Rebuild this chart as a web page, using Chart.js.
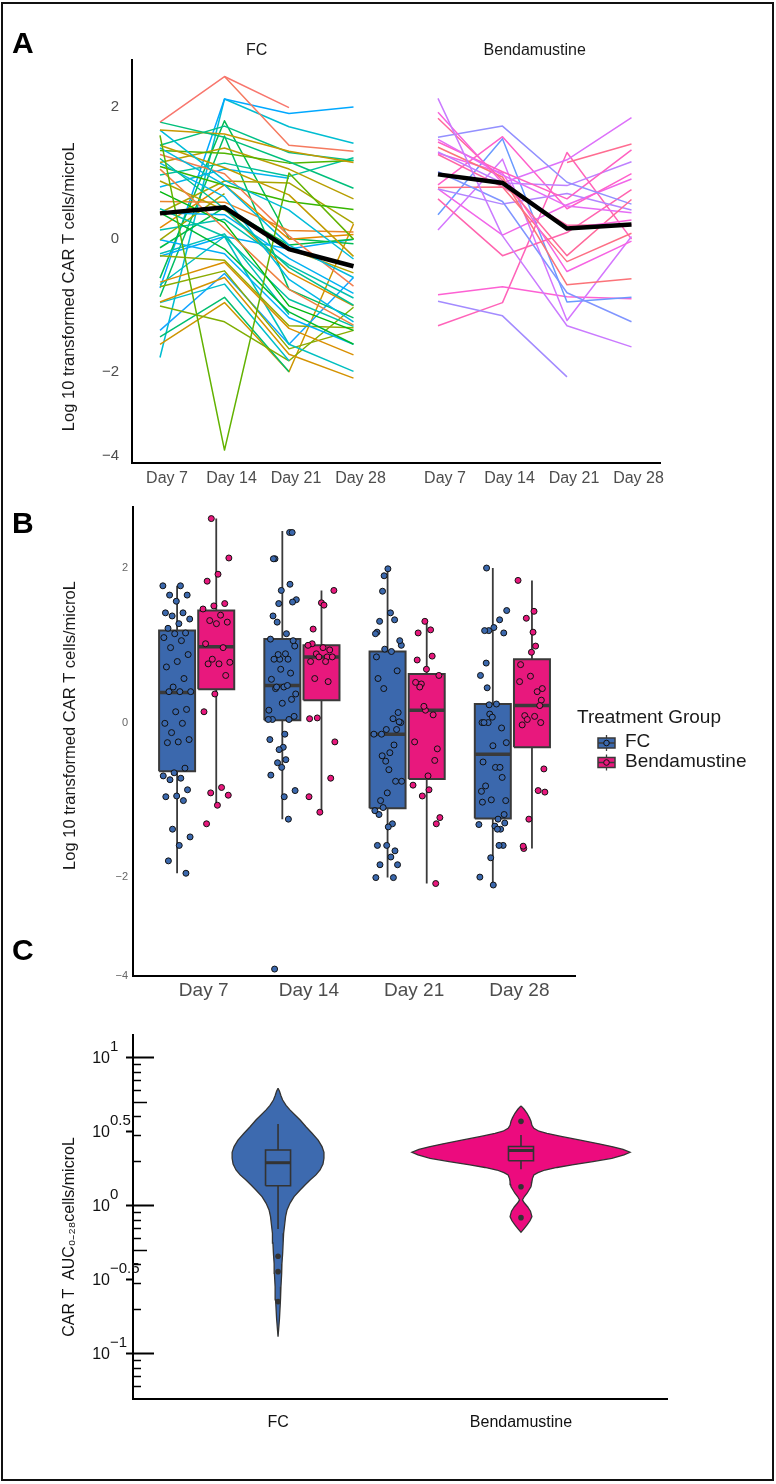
<!DOCTYPE html>
<html><head><meta charset="utf-8">
<script src="https://cdn.jsdelivr.net/npm/chart.js@4.4.1/dist/chart.umd.min.js"></script>
<style>
html,body{margin:0;padding:0;background:#fff;}
#page{position:relative;width:776px;height:1484px;overflow:hidden;background:#fff;}
#frame{position:absolute;left:1px;top:2px;width:773px;height:1479px;box-sizing:border-box;border:2px solid #111;}
canvas{position:absolute;left:0;}
.plabel{position:absolute;font:bold 30px "Liberation Sans",Arial,sans-serif;line-height:30px;color:#000;z-index:5;}
</style></head>
<body><div id="page">
<div id="frame"></div>
<canvas id="chartA" width="776" height="500" style="top:0"></canvas>
<canvas id="chartB" width="776" height="520" style="top:490px"></canvas>
<canvas id="chartC" width="776" height="470" style="top:1010px"></canvas>
<div class="plabel" style="left:12px;top:28px">A</div>
<div class="plabel" style="left:12px;top:508px">B</div>
<div class="plabel" style="left:12px;top:935px">C</div>
</div>
<script>
// ---------------- DATA ----------------
const days = ['Day 7', 'Day 14', 'Day 21', 'Day 28'];
const groups = ['FC', 'Bendamustine'];
const yTicksAB = [-4, -2, 0, 2];

// log10 CAR T cells/microL per patient at Day 7, 14, 21, 28 (null = not sampled)
const fcPatients = [
  [1.77, 2.46, 1.99, null], [1.77, 1.54, 1.17, 0.77], [1.65, 1.59, 1.33, 1.16], [1.65, 0.89, 0.44, -0.30],
  [1.57, -3.86, 1.00, 0.00], [null, 2.46, 1.42, 1.33], [1.42, 1.71, 1.31, 1.19], [1.42, 1.08, 0.67, -0.26],
  [1.38, 0.82, -0.09, -0.58], [1.34, 1.30, 1.15, 1.19], [1.28, 0.99, 0.05, -0.71], [1.22, 0.46, -0.43, -1.00],
  [1.16, 1.38, 1.06, 0.61], [1.15, 0.64, -0.61, -1.25], [1.10, 0.82, 0.57, 0.45], [1.06, 0.16, -0.76, -1.30],
  [0.97, 1.15, 0.95, 1.23], [0.88, 0.44, -0.15, -0.51], [0.79, 1.06, 0.92, null], [0.72, 0.25, -1.01, -1.38],
  [0.57, 0.56, 0.13, 0.11], [0.46, 0.04, -0.91, -1.32], [0.40, 0.88, 0.85, 0.24], [0.40, 0.37, -0.29, -0.82],
  [0.40, -0.15, -1.10, -1.59], [0.17, 0.82, 0.00, 0.07], [0.14, 0.30, -0.39, -0.89], [-0.01, 0.69, null, null],
  [-0.01, -0.22, -1.19, -1.59], [-0.13, 0.48, -0.09, 0.00], [null, 0.46, -0.50, -1.01], [-0.22, 0.08, -1.14, null],
  [-0.25, -0.32, -1.31, -1.34], [-0.26, 0.04, -0.15, 0.00], [-0.59, 1.79, 0.01, -0.07], [-0.65, -0.35, -1.35, -1.75],
  [-0.69, 0.04, -1.59, -2.00], [-0.72, -0.48, -1.66, -1.38], [-0.74, 2.12, 1.90, 2.00], [-0.87, 1.56, -0.76, -1.19],
  [-0.95, -0.58, -1.74, -2.16], [-0.96, -0.68, -1.84, null], [-1.01, -1.25, -1.84, -1.03], [-1.38, -0.52, -1.59, -0.58],
  [-1.48, -0.88, -2.01, null], [-1.59, -0.96, -2.01, 0.23], [-1.79, 2.12, 1.70, 1.45], [-1.95, null, null, null]
];
const bendaPatients = [
  [2.64, null, null, 0.08], [2.13, 0.05, -1.31, -1.63], [1.92, 0.85, 0.16, 0.29], [1.83, 0.89, -0.25, 0.60],
  [1.54, 1.71, 0.86, 0.53], [1.51, 0.97, 0.50, 0.40], [1.47, 1.02, 0.61, 1.35], [1.39, 0.94, -0.69, -0.60],
  [1.32, 0.85, 0.81, 1.17], [1.30, 1.00, -0.49, -0.03], [1.28, 0.79, 0.21, 0.22], [1.02, 0.57, -0.81, -1.25],
  [0.97, 0.85, 1.20, 1.84], [0.82, 1.55, 0.46, 0.99], [0.78, 0.79, -0.34, 0.09], [0.76, 0.53, 0.69, 0.44],
  [0.76, 0.06, 0.52, 0.91], [0.61, -0.25, 0.10, 0.75], [0.37, 1.52, -0.95, -0.88], [0.14, 1.21, -1.23, 0.04],
  [-0.84, -0.72, -0.87, -0.90], [-0.91, null, 1.16, 1.44], [-0.94, -1.16, -2.13, null], [-1.07, null, null, -1.60],
  [-1.31, -0.96, 1.31, 0.00]
];

// group summaries
const fcMedian = [0.39, 0.48, -0.15, -0.41];
const bendaMedian = [0.98, 0.85, 0.16, 0.22];
const fcQ1 = [-0.63, 0.03, -1.11, -1.24];
const fcQ3 = [1.19, 1.08, 0.92, 0.24];
const fcLow = [-1.95, -1.25, -2.01, -2.16];
const fcHigh = [1.77, 2.48, 1.99, 2.00];
const bendaQ1 = [0.43, 0.29, -0.73, -0.32];
const bendaQ3 = [1.45, 1.00, 0.63, 0.82];
const bendaLow = [-1.07, -1.16, -2.13, -1.63];
const bendaHigh = [2.64, 1.71, 1.31, 1.84];

// Panel C: CAR T AUC(0-28) cells/microL, log axis
const aucGroups = ['FC', 'Bendamustine'];
const aucTickExp = [-1, -0.5, 0, 0.5, 1];
const aucMinorTicks = [0.06, 0.07, 0.08, 0.09, 0.2, 0.3, 0.4, 0.6, 0.7, 0.8, 0.9, 2, 3, 4, 6, 7, 8, 9];
const aucMidTicks = [0.5, 5];
const aucMajorTicks = [0.1, 1, 10];
const fcViolinExp = [0.795,0.775,0.745,0.716,0.680,0.649,0.615,0.581,0.535,0.491,0.445,0.401,0.362,0.322,0.283,0.243,0.210,0.176,0.142,0.108,0.063,0.018,-0.027,-0.072,-0.130,-0.185,-0.250,-0.320,-0.390,-0.455,-0.545,-0.635,-0.760,-0.883];
const fcViolinWidth = [0,0.006,0.012,0.019,0.033,0.049,0.070,0.091,0.115,0.140,0.165,0.181,0.189,0.189,0.185,0.173,0.156,0.132,0.111,0.091,0.066,0.049,0.037,0.031,0.027,0.023,0.021,0.019,0.016,0.015,0.012,0.010,0.006,0];
const bendaViolinExp = [0.676,0.655,0.626,0.595,0.572,0.545,0.525,0.505,0.491,0.470,0.446,0.420,0.401,0.382,0.363,0.345,0.322,0.300,0.277,0.260,0.243,0.225,0.209,0.185,0.164,0.145,0.130,0.108,0.086,0.064,0.041,0.020,-0.005,-0.035,-0.072,-0.100,-0.128,-0.155,-0.178];
const bendaViolinWidth = [0,0.012,0.025,0.035,0.041,0.045,0.053,0.074,0.107,0.165,0.239,0.321,0.374,0.420,0.449,0.424,0.374,0.296,0.210,0.148,0.099,0.070,0.053,0.047,0.045,0.043,0.041,0.033,0.025,0.014,0.006,0.014,0.027,0.039,0.045,0.037,0.025,0.012,0];
const aucQ1 = [1.37, 2.02];
const aucMedian = [1.96, 2.37];
const aucQ3 = [2.39, 2.52];
const aucLow = [0.70, 1.77];
const aucHigh = [3.58, 3.02];
const fcAucPoints = [0.457, 0.360, 0.226];
const bendaAucPoints = [3.73, 1.35, 0.834];

// ---------------- STYLE / HELPERS ----------------
const FONT = '"Liberation Sans", Arial, Helvetica, sans-serif';
Chart.defaults.font.family = FONT;
const groupColors = ['#3b68ad', '#e8187d'];
const violinColors = ['#3d6aaf', '#ec0b7e'];
const dark = '#3a3a3a';

function hclColor(h, c, l) {
  const hr = h * Math.PI / 180;
  const U = c * Math.cos(hr), V = c * Math.sin(hr);
  const Xn = 95.047, Yn = 100, Zn = 108.883;
  const un = 4 * Xn / (Xn + 15 * Yn + 3 * Zn), vn = 9 * Yn / (Xn + 15 * Yn + 3 * Zn);
  const Y = l > 8 ? Yn * Math.pow((l + 16) / 116, 3) : Yn * l / 903.3;
  const u = U / (13 * l) + un, v = V / (13 * l) + vn;
  const X = 9 * Y * u / (4 * v), Z = 3 * Y / v - X / 3 - 5 * Y;
  const x = X / 100, y = Y / 100, z = Z / 100;
  const r = 3.2406 * x - 1.5372 * y - 0.4986 * z;
  const g = -0.9689 * x + 1.8758 * y + 0.0415 * z;
  const b = 0.0557 * x - 0.2040 * y + 1.0570 * z;
  const gam = t => { t = t <= 0.0031308 ? 12.92 * t : 1.055 * Math.pow(t, 1 / 2.4) - 0.055; return Math.round(Math.max(0, Math.min(1, t)) * 255); };
  return 'rgb(' + gam(r) + ',' + gam(g) + ',' + gam(b) + ')';
}
const nPat = fcPatients.length + bendaPatients.length;
const hueOf = k => hclColor(15 + 360 * k / nPat, 100, 65);
const minus = v => (v < 0 ? '\u2212' + Math.abs(v) : String(v));

// y axis with the lower part (below -2) compressed, as in the original figure
const BREAK = -2, COMPRESS = 0.64;
class SplitLinearScale extends Chart.LinearScale {
  _tv(v) { return v >= BREAK ? v : BREAK + (v - BREAK) * COMPRESS; }
  _iv(t) { return t >= BREAK ? t : BREAK + (t - BREAK) / COMPRESS; }
  getPixelForValue(value) {
    if (value === null || value === undefined || isNaN(value)) return NaN;
    const t0 = this._tv(this.min), t1 = this._tv(this.max);
    return this.getPixelForDecimal((this._tv(value) - t0) / (t1 - t0));
  }
  getValueForPixel(pixel) {
    const t0 = this._tv(this.min), t1 = this._tv(this.max);
    return this._iv(t0 + this.getDecimalForPixel(pixel) * (t1 - t0));
  }
}
SplitLinearScale.id = 'splitLinear';
SplitLinearScale.defaults = Chart.LinearScale.defaults;
Chart.register(SplitLinearScale);

const common = { responsive: false, animation: false, devicePixelRatio: 1, events: [],
  plugins: { legend: { display: false }, tooltip: { enabled: false } } };
const axisBorder = { display: true, color: '#000', width: 2 };
const noGrid = { display: false, drawTicks: false };

// box outline polygons (q1..q3 around each centre), split by null gaps
function boxPolygons(q1, q3, centers, hw) {
  const out = [];
  q1.forEach((lo, i) => {
    const c = centers[i], hi = q3[i];
    out.push({ x: c - hw, y: lo }, { x: c - hw, y: hi }, { x: c + hw, y: hi }, { x: c + hw, y: lo }, { x: c - hw, y: lo }, { x: c, y: null });
  });
  return out;
}
function whiskers(lo, hi, centers) {
  const out = [];
  lo.forEach((v, i) => { const x = centers[i]; out.push({ x, y: v }, { x, y: hi[i] }, { x, y: null }); });
  return out;
}

// ---------------- PANEL A ----------------
const BEN_OFF = 4.31;
const aDatasets = [];
aDatasets.push({ type: 'line', data: fcMedian.map((v, d) => ({ x: d, y: v })), borderColor: '#000', borderWidth: 4.5, pointRadius: 0, order: 0 });
aDatasets.push({ type: 'line', data: bendaMedian.map((v, d) => ({ x: d + BEN_OFF, y: v })), borderColor: '#000', borderWidth: 4.5, pointRadius: 0, order: 0 });
fcPatients.forEach((p, i) => aDatasets.push({ type: 'line', data: p.map((v, d) => ({ x: d, y: v })),
  borderColor: hueOf((i * 29) % fcPatients.length), borderWidth: 1.5, pointRadius: 0, spanGaps: false, borderJoinStyle: 'round', order: 1 }));
bendaPatients.forEach((p, j) => aDatasets.push({ type: 'line', data: p.map((v, d) => ({ x: d + BEN_OFF, y: v })),
  borderColor: hueOf(fcPatients.length + (j * 7) % bendaPatients.length), borderWidth: 1.5, pointRadius: 0, spanGaps: false, borderJoinStyle: 'round', order: 1 }));
const aTickPos = days.map((_, d) => d).concat(days.map((_, d) => d + BEN_OFF));

new Chart(document.getElementById('chartA'), {
  type: 'line',
  data: { datasets: aDatasets },
  options: Object.assign({}, common, {
    layout: { padding: { left: 0, top: 20, right: 116, bottom: 0 }, autoPadding: false },
    scales: {
      x: { type: 'linear', position: 'bottom', min: -0.434, max: 7.752,
        afterFit: s => { s.height = 37; },
        afterBuildTicks: s => { s.ticks = aTickPos.map(v => ({ value: v })); },
        grid: noGrid, border: axisBorder,
        ticks: { autoSkip: false, maxRotation: 0, padding: 6, labelOffset: 7, color: '#4d4d4d', font: { size: 16 }, callback: (v, i) => days[i % days.length] } },
      xTop: { type: 'linear', position: 'top', min: -0.434, max: 7.752,
        afterFit: s => { s.height = 40; },
        afterBuildTicks: s => { s.ticks = [1.5, 1.5 + BEN_OFF].map(v => ({ value: v })); },
        grid: noGrid, border: { display: false },
        ticks: { autoSkip: false, maxRotation: 0, padding: 0, color: '#1a1a1a', font: { size: 16 }, callback: (v, i) => groups[i] } },
      y: { type: 'splitLinear', min: -4.166, max: 2.71,
        afterFit: s => { s.width = 132; },
        afterBuildTicks: s => { s.ticks = yTicksAB.map(v => ({ value: v })); },
        grid: noGrid, border: axisBorder,
        ticks: { padding: 13, color: '#4d4d4d', font: { size: 15 }, callback: v => minus(v) },
        title: { display: true, text: 'Log 10 transformed CAR T cells/microL' + ' '.repeat(11), color: '#1a1a1a', font: { size: 16.5 }, padding: { top: 60, bottom: 0 } } }
    }
  })
});

// ---------------- PANEL B ----------------
const B_OFF = [-0.186, 0.186];
const B_HALF = 0.171;
const jit = k => (((k * 0.6180339887) % 1) - 0.5) * 0.27;
function pointsFor(patients, g) {
  const out = [];
  days.forEach((_, d) => {
    patients.map(p => p[d]).filter(v => v !== null).forEach((v, k) => out.push({ x: d + B_OFF[g] + jit(k + d * 53 + g * 7), y: v }));
  });
  return out;
}
const bSets = [
  [fcPatients, fcQ1, fcQ3, fcMedian, fcLow, fcHigh],
  [bendaPatients, bendaQ1, bendaQ3, bendaMedian, bendaLow, bendaHigh]
];
const bDatasets = [];
bSets.forEach(([pats, q1, q3, med, lo, hi], g) => {
  const centers = days.map((_, d) => d + B_OFF[g]);
  bDatasets.push({ type: 'scatter', data: pointsFor(pats, g), pointRadius: 3, pointBorderWidth: 1, backgroundColor: groupColors[g], borderColor: '#111', order: 0 });
  bDatasets.push({ type: 'scatter', data: med.map((v, d) => ({ x: centers[d], y: v })), pointStyle: 'line', pointRadius: 18, pointBorderWidth: 3.5, borderColor: dark, order: 1 });
  bDatasets.push({ type: 'line', data: boxPolygons(q1, q3, centers, B_HALF), backgroundColor: groupColors[g], borderColor: dark, borderWidth: 2, fill: 'shape', pointRadius: 0, spanGaps: false, tension: 0, order: 2 });
  bDatasets.push({ type: 'line', data: whiskers(lo, hi, centers), borderColor: dark, borderWidth: 1.8, pointRadius: 0, spanGaps: false, order: 3 });
});

const legendB = {
  id: 'legendB',
  afterDraw(chart) {
    const ctx = chart.ctx, a = chart.chartArea;
    const x0 = a.right + 2, mid = (a.top + a.bottom) / 2;
    ctx.save();
    ctx.textBaseline = 'middle'; ctx.textAlign = 'left';
    ctx.font = '19px ' + FONT; ctx.fillStyle = '#1a1a1a';
    ctx.fillText('Treatment Group', x0, mid - 23.5);
    groups.forEach((g, i) => {
      const cy = mid + 1.5 + i * 19.5, kx = x0 + 21;
      ctx.strokeStyle = dark; ctx.lineWidth = 1.3;
      ctx.beginPath(); ctx.moveTo(kx + 8.5, cy - 8); ctx.lineTo(kx + 8.5, cy + 8); ctx.stroke();
      ctx.fillStyle = groupColors[i];
      ctx.fillRect(kx, cy - 5, 17, 10);
      ctx.lineWidth = 1.5; ctx.strokeRect(kx, cy - 5, 17, 10);
      ctx.beginPath(); ctx.moveTo(kx, cy); ctx.lineTo(kx + 17, cy); ctx.stroke();
      ctx.beginPath(); ctx.arc(kx + 8.5, cy, 2.8, 0, Math.PI * 2); ctx.fill();
      ctx.strokeStyle = '#111'; ctx.lineWidth = 1; ctx.stroke();
      ctx.fillStyle = '#1a1a1a'; ctx.fillText(g, kx + 27, cy - 1);
    });
    ctx.restore();
  }
};

new Chart(document.getElementById('chartB'), {
  type: 'scatter',
  data: { datasets: bDatasets },
  options: Object.assign({}, common, {
    layout: { padding: { left: 0, top: 17, right: 201, bottom: 0 }, autoPadding: false },
    scales: {
      x: { type: 'linear', min: -0.605, max: 3.595,
        afterFit: s => { s.height = 34; },
        afterBuildTicks: s => { s.ticks = days.map((_, d) => ({ value: d })); },
        grid: noGrid, border: axisBorder,
        ticks: { autoSkip: false, maxRotation: 0, padding: 3, labelOffset: 7, color: '#4d4d4d', font: { size: 19 }, callback: (v, i) => days[i] } },
      y: { type: 'splitLinear', min: -4, max: 2.79,
        afterFit: s => { s.width = 133; },
        afterBuildTicks: s => { s.ticks = yTicksAB.map(v => ({ value: v })); },
        grid: noGrid, border: axisBorder,
        ticks: { padding: 5, color: '#666', font: { size: 11 }, callback: v => minus(v) },
        title: { display: true, text: ' '.repeat(7) + 'Log 10 transformed CAR T cells/microL', color: '#1a1a1a', font: { size: 16.5 }, padding: { top: 61, bottom: 0 } } }
    }
  }),
  plugins: [legendB]
});

// ---------------- PANEL C ----------------
function violin(exps, widths, c) {
  const right = exps.map((e, i) => ({ x: c + widths[i], y: Math.pow(10, e) }));
  const left = exps.map((e, i) => ({ x: c - widths[i], y: Math.pow(10, e) })).reverse();
  return right.concat(left);
}
const C_XMIN = -0.597, C_XMAX = 1.601, C_YMIN = Math.pow(10, -1.304), C_YMAX = Math.pow(10, 1.155);
const C_PX = 534 / (C_XMAX - C_XMIN);   // pixels per x unit (for tick-mark axes placement)
const C_HALF = 0.0515;
const cDatasets = [
  { type: 'scatter', data: fcAucPoints.map(v => ({ x: 0, y: v })).concat(bendaAucPoints.map(v => ({ x: 1, y: v }))), pointRadius: 2.8, pointBorderWidth: 0, backgroundColor: '#333', order: 0 },
  { type: 'scatter', data: aucMedian.map((v, g) => ({ x: g, y: v })), pointStyle: 'line', pointRadius: 12.5, pointBorderWidth: 3, borderColor: '#333', order: 1 }
];
aucGroups.forEach((_, g) => {
  cDatasets.push({ type: 'line', data: boxPolygons([aucQ1[g]], [aucQ3[g]], [g], C_HALF), backgroundColor: violinColors[g], borderColor: '#333', borderWidth: 1.6, fill: 'shape', pointRadius: 0, spanGaps: false, tension: 0, order: 2 });
});
cDatasets.push({ type: 'line', data: whiskers(aucLow, aucHigh, [0, 1]), borderColor: '#333', borderWidth: 1.6, pointRadius: 0, spanGaps: false, order: 3 });
cDatasets.push({ type: 'line', data: violin(fcViolinExp, fcViolinWidth, 0), borderColor: '#333', borderWidth: 1.3, backgroundColor: violinColors[0], fill: 'shape', pointRadius: 0, tension: 0, order: 4 });
cDatasets.push({ type: 'line', data: violin(bendaViolinExp, bendaViolinWidth, 1), borderColor: '#333', borderWidth: 1.3, backgroundColor: violinColors[1], fill: 'shape', pointRadius: 0, tension: 0, order: 4 });

// extra tick-only axes (ticks are drawn leftwards from their position, so place each at axis + length)
function tickAxis(values, len, width) {
  return { type: 'logarithmic', axis: 'y', position: { x: C_XMIN + len / C_PX }, min: C_YMIN, max: C_YMAX,
    afterBuildTicks: s => { s.ticks = values.map(v => ({ value: v })); },
    ticks: { display: false },
    grid: { display: true, drawOnChartArea: false, drawTicks: true, tickLength: len, tickWidth: width, tickColor: '#000', color: '#000' },
    border: { display: false } };
}
const cTickLabels = {
  id: 'cTickLabels',
  afterDraw(chart) {
    const s = chart.scales.y, ctx = chart.ctx, xr = chart.chartArea.left - 23;
    ctx.save();
    ctx.fillStyle = '#111'; ctx.textBaseline = 'middle';
    aucTickExp.forEach(e => {
      const y = s.getPixelForValue(Math.pow(10, e));
      ctx.font = '16px ' + FONT; ctx.textAlign = 'right'; ctx.fillText('10', xr, y + 1);
      ctx.font = '15px ' + FONT; ctx.textAlign = 'left'; ctx.fillText(minus(e), xr, y - 11);
    });
    ctx.restore();
  }
};
new Chart(document.getElementById('chartC'), {
  type: 'scatter',
  data: { datasets: cDatasets },
  options: Object.assign({}, common, {
    layout: { padding: { left: 0, top: 25, right: 109, bottom: 0 }, autoPadding: false },
    scales: {
      x: { type: 'linear', min: C_XMIN, max: C_XMAX,
        afterFit: s => { s.height = 81; },
        afterBuildTicks: s => { s.ticks = aucGroups.map((_, g) => ({ value: g })); },
        grid: noGrid, border: axisBorder,
        ticks: { autoSkip: false, maxRotation: 0, padding: 14, color: '#111', font: { size: 16 }, callback: (v, i) => aucGroups[i] } },
      y: { type: 'logarithmic', min: C_YMIN, max: C_YMAX,
        afterFit: s => { s.width = 133; },
        afterBuildTicks: s => { s.ticks = aucTickExp.map(e => ({ value: Math.pow(10, e) })); },
        ticks: { display: false },
        grid: { display: true, drawOnChartArea: false, drawTicks: true, tickLength: 7, tickWidth: 2, tickColor: '#000', color: '#000' },
        border: axisBorder,
        title: { display: true, text: 'CAR T  AUC\u2080\u208B\u2082\u2088cells/microL' + ' '.repeat(9), color: '#111', font: { size: 16 }, padding: { top: 60, bottom: 0 } } },
      yMinor: tickAxis(aucMinorTicks, 8, 1.5),
      yMid: tickAxis(aucMidTicks, 14, 1.5),
      yMajor: tickAxis(aucMajorTicks, 21, 2)
    }
  }),
  plugins: [cTickLabels]
});
</script>
</body></html>
